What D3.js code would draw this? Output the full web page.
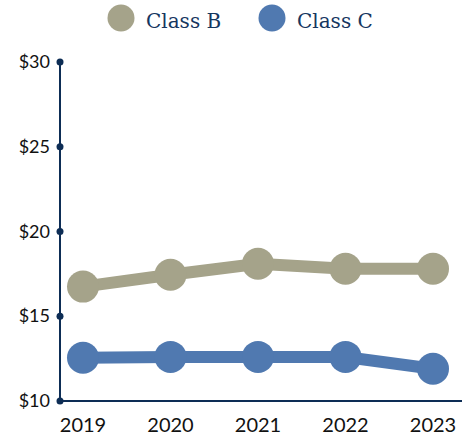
<!DOCTYPE html>
<html>
<head>
<meta charset="utf-8">
<script src="https://cdn.jsdelivr.net/npm/d3@7"></script>
<style>
  html, body { margin: 0; padding: 0; background: #fff; }
  svg { display: block; }
</style>
</head>
<body>
<svg id="chart" width="473" height="438"></svg>
<script>
// Annual values per class (USD)
const years = ["2019", "2020", "2021", "2022", "2023"];
const classB = [16.75, 17.45, 18.1, 17.8, 17.8];
const classC = [12.55, 12.6, 12.6, 12.6, 11.9];
const seriesNames = ["Class B", "Class C"];
const yTicks = [10, 15, 20, 25, 30];

const colors = { "Class B": "#a5a38a", "Class C": "#5079b0" };
const axisColor = "#0d2d55";

const svg = d3.select("#chart");
const margin = { left: 60, right: 11, top: 62, bottom: 37 };
const W = 473, H = 438;

const x = d3.scalePoint()
  .domain(years)
  .range([83, 433]);

const y = d3.scaleLinear()
  .domain([10, 30])
  .range([H - margin.bottom, margin.top]);

// Y axis: line with round tick markers
const yAxis = svg.append("g").attr("transform", `translate(${margin.left},0)`);
yAxis.append("line")
  .attr("y1", y(30)).attr("y2", y(10))
  .attr("stroke", axisColor).attr("stroke-width", 2);
yAxis.selectAll("circle").data(yTicks).join("circle")
  .attr("cy", d => y(d)).attr("r", 3.5).attr("fill", axisColor);
yAxis.selectAll("text").data(yTicks).join("text")
  .attr("x", -10).attr("y", d => y(d) + 6)
  .attr("text-anchor", "end")
  .attr("font-family", "Lato, 'Open Sans', sans-serif")
  .attr("font-size", 18).attr("fill", "#111")
  .text(d => "$" + d);

// X axis
const xAxis = svg.append("g").attr("transform", `translate(0,${y(10)})`);
xAxis.append("line")
  .attr("x1", margin.left).attr("x2", W - margin.right)
  .attr("stroke", axisColor).attr("stroke-width", 2);
xAxis.selectAll("text").data(years).join("text")
  .attr("x", d => x(d)).attr("y", 31)
  .attr("text-anchor", "middle")
  .attr("font-family", "Lato, 'Open Sans', sans-serif")
  .attr("font-size", 20).attr("fill", "#111")
  .text(d => d);

// Series lines and markers
const series = [
  { name: "Class B", values: classB },
  { name: "Class C", values: classC }
];
const line = d3.line()
  .x((d, i) => x(years[i]))
  .y(d => y(d));

series.forEach(s => {
  const g = svg.append("g");
  g.append("path")
    .attr("d", line(s.values))
    .attr("fill", "none")
    .attr("stroke", colors[s.name])
    .attr("stroke-width", 12);
  g.selectAll("circle").data(s.values).join("circle")
    .attr("cx", (d, i) => x(years[i]))
    .attr("cy", d => y(d))
    .attr("r", 16)
    .attr("fill", colors[s.name]);
});

// Legend
const legendPos = [{ cx: 121, tx: 146 }, { cx: 272, tx: 297 }];
const legend = svg.append("g");
seriesNames.forEach((n, i) => {
  legend.append("circle")
    .attr("cx", legendPos[i].cx).attr("cy", 18).attr("r", 13.5)
    .attr("fill", colors[n]);
  legend.append("text")
    .attr("x", legendPos[i].tx).attr("y", 28)
    .attr("font-family", "'DejaVu Serif', serif")
    .attr("font-size", 20).attr("fill", "#16365f")
    .text(n);
});
</script>
</body>
</html>
